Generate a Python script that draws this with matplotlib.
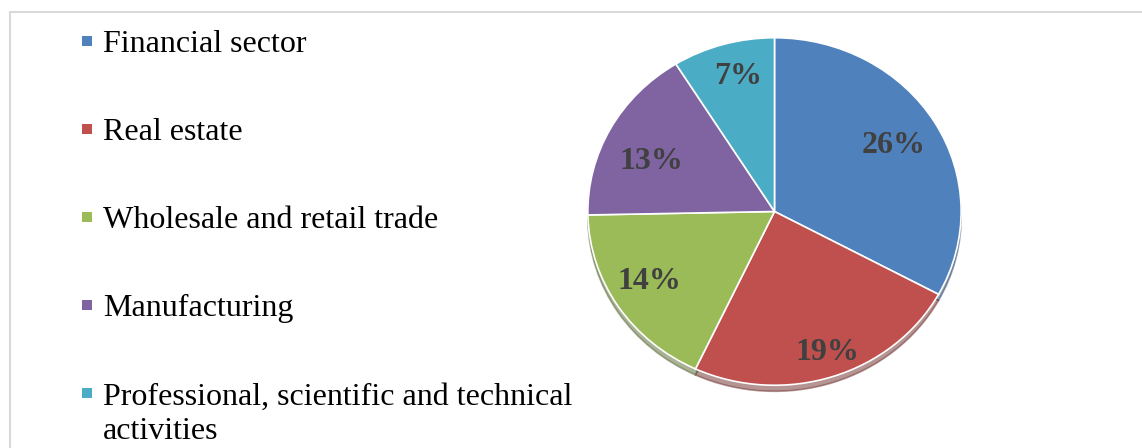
import numpy as np
import matplotlib.pyplot as plt
from matplotlib.patches import Rectangle

# data
sectors = ['Financial sector', 'Real estate', 'Wholesale and retail trade',
           'Manufacturing', 'Professional, scientific and technical\nactivities']
shares = [26, 19, 14, 13, 7]
colors = ['#4F81BD', '#C0504D', '#9BBB59', '#8064A2', '#4BACC6']
label_r = [0.74, 0.86, 0.78, 0.72, 0.80]  # where each % label sits (radius)
label_da = [0, 1, -2, 5, -2]              # small angle nudges, degrees

W, H = 1142, 448
fig = plt.figure(figsize=(W / 100, H / 100), dpi=100)

# light frame, only top and left edges are inside the picture
fig.patches.append(Rectangle((10 / W, -0.1), 1.2, 1 - 12.5 / H + 0.1,
                             transform=fig.transFigure, fill=False,
                             edgecolor='#D9D9D9', linewidth=1.5))

ax = fig.add_axes([586 / W, 1 - 387 / H, 377 / W, 351 / H])
wedges, _ = ax.pie(shares, colors=colors, startangle=90, counterclock=False,
                   wedgeprops=dict(edgecolor='white', linewidth=1.2),
                   shadow=dict(ox=0, oy=-0.025, shade=0.45))
ax.set_xlim(-1.01, 1.01)
ax.set_ylim(-1.01, 1.01)
ax.set_aspect('auto')

for w, v, r, da in zip(wedges, shares, label_r, label_da):
    mid = np.deg2rad((w.theta1 + w.theta2) / 2 + da)
    ax.text(r * np.cos(mid), r * np.sin(mid), f'{v}%', ha='center', va='center',
            family='Liberation Serif', fontweight='bold', fontsize=23,
            color='#404040')

# legend drawn by hand: small squares + serif text
line_h = 35  # px between wrapped lines
for i, (name, c) in enumerate(zip(sectors, colors)):
    yc = 41 + i * 88
    fig.patches.append(Rectangle((82 / W, 1 - (yc + 5) / H), 10 / W, 10 / H,
                                 transform=fig.transFigure, facecolor=c,
                                 edgecolor='none'))
    extra = (name.count('\n')) * line_h
    fig.text(103 / W, 1 - (yc + 11 + extra) / H, name, ha='left', va='baseline',
             family='Liberation Serif', fontsize=23, color='black',
             linespacing=1.25)

fig.savefig('out.png', dpi=100)
